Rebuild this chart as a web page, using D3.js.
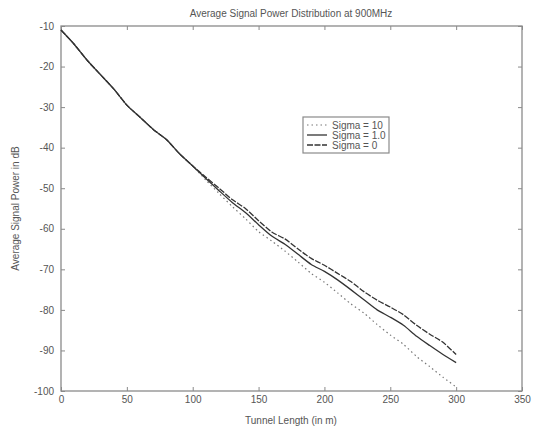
<!DOCTYPE html>
<html>
<head>
<meta charset="utf-8">
<script src="https://cdn.jsdelivr.net/npm/d3@7"></script>
<style>
body { margin: 0; background: #fff; }
text { font-family: "Liberation Sans", Arial, sans-serif; fill: #555; }
</style>
</head>
<body>
<svg id="chart" width="536" height="428"></svg>
<script>
///////  data ///////

var distance = d3.range(0, 301, 10);
var sigma10 = [-11, -14.5, -18.5, -22, -25.5, -29.5, -32.5, -35.5, -38, -41.5, -44.5,
    -48, -51.3, -54.5, -57.5, -60.7, -63, -65.5, -68.2, -71, -73.2,
    -75.8, -78.5, -80.8, -83.6, -86.2, -88.5, -91.5, -94, -96.6, -99];
var sigma1 = [-11, -14.5, -18.5, -22, -25.5, -29.5, -32.5, -35.5, -38, -41.5, -44.5,
    -47.6, -50.6, -53.5, -56, -59, -61.8, -63.8, -66.3, -68.8, -70.5,
    -72.6, -75, -77.5, -80, -81.8, -83.8, -86.5, -88.8, -91, -93];
var sigma0 = [-11, -14.5, -18.5, -22, -25.5, -29.5, -32.5, -35.5, -38, -41.5, -44.5,
    -47.3, -50, -52.8, -55, -58, -60.8, -62.5, -65, -67.3, -69,
    -71, -73, -75.5, -77.6, -79.3, -81.2, -83.8, -86, -88, -91];
var seriesNames = ["Sigma = 10", "Sigma = 1.0", "Sigma = 0"];
var xTicks = [0, 50, 100, 150, 200, 250, 300, 350];
var yTicks = [-10, -20, -30, -40, -50, -60, -70, -80, -90, -100];

///////  layout ///////

var svg = d3.select("#chart"),
    margin = {top: 26, right: 14, bottom: 37, left: 61},
    width = 536 - margin.left - margin.right,
    height = 428 - margin.top - margin.bottom;

var g = svg.append("g")
    .attr("transform", "translate(" + margin.left + "," + margin.top + ")");

var x = d3.scaleLinear().domain([0, 350]).range([0, width]),
    y = d3.scaleLinear().domain([-100, -10]).range([height, 0]);

var axisColor = "#8a8a8a";
var plain = function(d) { return String(d); };  // keep ascii hyphen for minus

function styleAxis(sel) {
    sel.select(".domain").remove();
    sel.selectAll(".tick line").attr("stroke", axisColor);
    sel.selectAll(".tick text").attr("font-size", "10px").style("fill", "#555");
}

// bottom / top axes, ticks pointing inward
g.append("g")
    .attr("transform", "translate(0," + height + ")")
    .call(d3.axisBottom(x).tickValues(xTicks).tickSize(-4).tickPadding(5).tickFormat(plain))
    .call(styleAxis);
g.append("g")
    .call(d3.axisTop(x).tickValues(xTicks).tickSize(-4).tickFormat(""))
    .call(styleAxis);

// left / right axes
g.append("g")
    .call(d3.axisLeft(y).tickValues(yTicks).tickSize(-4).tickPadding(7).tickFormat(plain))
    .call(styleAxis);
g.append("g")
    .attr("transform", "translate(" + width + ",0)")
    .call(d3.axisRight(y).tickValues(yTicks).tickSize(-4).tickFormat(""))
    .call(styleAxis);

g.append("rect")
    .attr("width", width)
    .attr("height", height)
    .attr("fill", "none")
    .attr("stroke", axisColor)
    .attr("stroke-width", 1.3);

///////  lines ///////

var line = d3.line()
    .curve(d3.curveCardinal.tension(0.3))
    .x(function(d) { return x(d[0]); })
    .y(function(d) { return y(d[1]); });

var series = [
    {name: seriesNames[0], values: sigma10, dash: "1.5,3", color: "#777", w: 1.2},
    {name: seriesNames[1], values: sigma1, dash: null, color: "#333", w: 1.3},
    {name: seriesNames[2], values: sigma0, dash: "6,1.5", color: "#333", w: 1.3}
];

series.forEach(function(s) {
    g.append("path")
        .datum(d3.zip(distance, s.values))
        .attr("fill", "none")
        .attr("stroke", s.color)
        .attr("stroke-width", s.w)
        .attr("stroke-dasharray", s.dash)
        .attr("d", line);
});

///////  labels ///////

svg.append("text")
    .attr("x", 291).attr("y", 17)
    .attr("text-anchor", "middle")
    .attr("font-size", "10px")
    .text("Average Signal Power Distribution at 900MHz");

svg.append("text")
    .attr("x", 291).attr("y", 424)
    .attr("text-anchor", "middle")
    .attr("font-size", "10px")
    .text("Tunnel Length (in m)");

svg.append("text")
    .attr("transform", "translate(19," + (margin.top + height / 2) + ") rotate(-90)")
    .attr("text-anchor", "middle")
    .attr("font-size", "10px")
    .text("Average Signal Power in dB");

///////  legend ///////

var legend = svg.append("g").attr("transform", "translate(303,117)");
legend.append("rect")
    .attr("width", 86).attr("height", 36)
    .attr("fill", "#fff")
    .attr("stroke", axisColor)
    .attr("stroke-width", 1.2);

series.forEach(function(s, i) {
    var ly = 8 + i * 10;
    legend.append("line")
        .attr("x1", 4).attr("x2", 24)
        .attr("y1", ly).attr("y2", ly)
        .attr("stroke", s.color)
        .attr("stroke-width", s.w)
        .attr("stroke-dasharray", s.dash);
    legend.append("text")
        .attr("x", 29).attr("y", ly + 3.5)
        .attr("font-size", "10px")
        .text(s.name);
});
</script>
</body>
</html>
